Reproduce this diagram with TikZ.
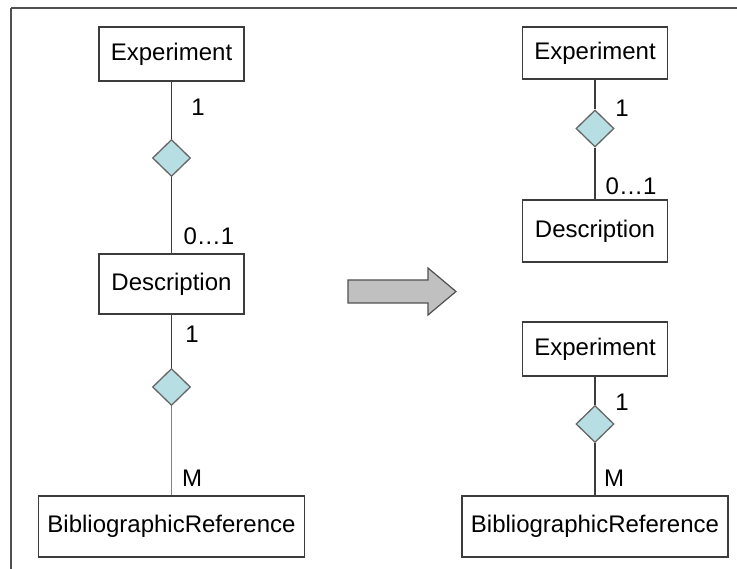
\documentclass[tikz,border=0pt]{standalone}
\usepackage{fontspec}
\setmainfont{Liberation Sans}
\usetikzlibrary{shapes.geometric}
\definecolor{framegray}{HTML}{505050}
\definecolor{linegray}{HTML}{3C3C3C}
\definecolor{softgray}{HTML}{808080}
\definecolor{relfill}{HTML}{B7DEE2}
\definecolor{relborder}{HTML}{666666}
\definecolor{arrowfill}{HTML}{C0C0C0}
\begin{document}
\begin{tikzpicture}[x=1pt,y=-1pt,
  every node/.style={font=\fontsize{24}{28}\selectfont},
  entity/.style={draw=linegray, line width=1.4pt, fill=white, inner sep=0pt,
                 minimum width=145pt},
  wide/.style={entity, minimum width=266pt},
  rel/.style={diamond, draw=relborder, line width=1.3pt, fill=relfill,
              inner sep=0pt, minimum width=38pt, minimum height=37pt},
  link/.style={draw=linegray, line width=1.3pt},
  softlink/.style={draw=softgray, line width=1.7pt},
  mult/.style={inner sep=0pt}
]
\useasboundingbox (0,0) rectangle (737,569);

% partial frame: top and left edges
\draw[framegray, line width=1.6pt] (11,8) -- (737,8);
\draw[framegray, line width=1.6pt] (11,8) -- (11,569);

% ---- left: Experiment - Description - BibliographicReference
\node[entity, minimum height=54pt] (e1) at (171.5,54) {Experiment};
\node[entity, minimum height=60pt] (d1) at (171.5,284) {Description};
\node[wide, minimum height=61pt] (b1) at (171.5,526.5) {BibliographicReference};
\node[rel] (r1) at (171.5,158) {};
\node[rel] (r2) at (171.5,387) {};

\draw[link] (e1.south) -- (r1.north);
\draw[link] (r1.south) -- (d1.north);
\draw[link] (d1.south) -- (r2.north);
\draw[softlink] (r2.south) -- (b1.north);

\node[mult] (m1) at (198,107) {1};
\node[mult] (m2) at (209,236) {0…1};
\node[mult] (m3) at (192,334) {1};
\node[mult] (m4) at (192,478.5) {M};

% ---- transformation arrow
\draw[draw=framegray, line width=1.2pt, fill=arrowfill, line join=miter]
  (348,280) -- (428,280) -- (428,268) -- (456,291.5) -- (428,315)
  -- (428,303) -- (348,303) -- cycle;

% ---- right: Experiment - Description
\node[entity, minimum height=52pt] (e2) at (595,53) {Experiment};
\node[entity, minimum height=62pt] (d2) at (595,231) {Description};
\node[rel] (r3) at (595,128.5) {};
\draw[link] (e2.south) -- (r3.north);
\draw[link] (r3.south) -- (d2.north);
\node[mult] (m5) at (622,108) {1};
\node[mult] (m6) at (631,186.5) {0…1};

% ---- right: Experiment - BibliographicReference
\node[entity, minimum height=54pt] (e3) at (595,349) {Experiment};
\node[wide, minimum height=61pt] (b2) at (595,526.5) {BibliographicReference};
\node[rel] (r4) at (595,424) {};
\draw[link] (e3.south) -- (r4.north);
\draw[link] (r4.south) -- (b2.north);
\node[mult] (m7) at (622,402) {1};
\node[mult] (m8) at (614,478.5) {M};
\end{tikzpicture}
\end{document}
